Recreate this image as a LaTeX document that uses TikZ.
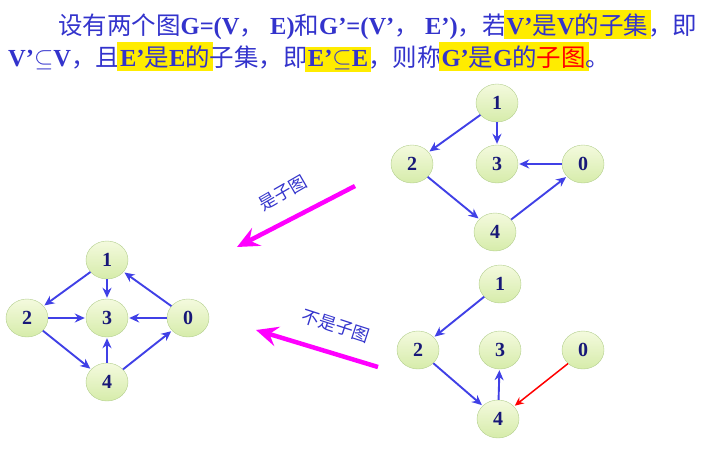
\documentclass[tikz,border=0pt]{standalone}
\usepackage{fontspec}
\setmainfont{Liberation Serif}
\newfontfamily\cjk{Noto Sans CJK SC}
\usetikzlibrary{shapes.geometric,arrows.meta,positioning}
\definecolor{textblue}{RGB}{51,51,204}
\definecolor{edgeblue}{RGB}{64,64,230}
\definecolor{hlyellow}{RGB}{255,236,0}
\definecolor{nodetop}{RGB}{244,250,222}
\definecolor{nodebottom}{RGB}{214,236,170}
\definecolor{nodeline}{RGB}{178,206,140}
\definecolor{labelblue}{RGB}{24,24,120}
\definecolor{arrowpink}{RGB}{255,0,255}
\newcommand\zh{\cjk\mdseries}
\newcommand\lat{\rmfamily\bfseries}
\newcommand\hlt[1]{\setlength{\fboxsep}{3pt}\hspace{-3pt}\colorbox{hlyellow}{#1}\hspace{-3pt}}

\begin{document}
\begin{tikzpicture}[x=1pt, y=-1pt,
  textline/.style={inner sep=0pt, anchor=base west, text=textblue,
    font=\fontsize{24.5}{28}\selectfont\bfseries},
  vertex/.style={ellipse, draw=nodeline, top color=nodetop, bottom color=nodebottom,
    minimum width=42pt, minimum height=38pt, inner sep=0pt, text=labelblue,
    font=\fontsize{20}{22}\selectfont\bfseries},
  edge/.style={draw=edgeblue, line width=1.9pt, -{Stealth[length=10pt,width=9pt]}, shorten >=1pt},
  badedge/.style={draw=red, line width=1.5pt, -{Stealth[length=9pt,width=8pt]}, shorten >=1pt},
  bigarrow/.style={draw=arrowpink, line width=4.5pt, -{Stealth[length=22pt,width=20pt,inset=8pt]}},
  note/.style={text=textblue, font=\cjk\fontsize{17.5}{19}\selectfont}]
  \useasboundingbox (0,0) rectangle (703,450);

  \node[textline] (line1) at (58,34) {\zh 设有两个图\lat G=(V\zh ，\lat\ E)\zh 和\lat G'=(V'\zh ，\lat\ E')\zh ，若\hlt{\lat V'\zh 是\lat V\zh 的子集}，即};
  \node[textline] (line2) at (8,66) {V'$\subseteq$V\zh ，且\hlt{\lat E'\zh 是\lat E\zh 的}子集，即\hlt{\lat E'$\subseteq$E}\zh ，则称\hlt{\lat G'\zh 是\lat G\zh 的\textcolor{red}{子图}}。};

  % graph G
  \node[vertex] (g1) at (107,260) {1};
  \node[vertex] (g2) at (27,318) {2};
  \node[vertex] (g3) at (107,318) {3};
  \node[vertex] (g0) at (188,318) {0};
  \node[vertex] (g4) at (107,382) {4};
  \draw[edge] (g1) -- (g2);
  \draw[edge] (g1) -- (g3);
  \draw[edge] (g0) -- (g1);
  \draw[edge] (g2) -- (g3);
  \draw[edge] (g0) -- (g3);
  \draw[edge] (g2) -- (g4);
  \draw[edge] (g4) -- (g3);
  \draw[edge] (g4) -- (g0);

  % subgraph
  \node[vertex] (s1) at (497,103) {1};
  \node[vertex] (s2) at (412,164) {2};
  \node[vertex] (s3) at (497,164) {3};
  \node[vertex] (s0) at (583,164) {0};
  \node[vertex] (s4) at (495,232) {4};
  \draw[edge] (s1) -- (s2);
  \draw[edge] (s1) -- (s3);
  \draw[edge] (s0) -- (s3);
  \draw[edge] (s2) -- (s4);
  \draw[edge] (s4) -- (s0);

  % not a subgraph
  \node[vertex] (n1) at (500,284) {1};
  \node[vertex] (n2) at (418,350) {2};
  \node[vertex] (n3) at (500,350) {3};
  \node[vertex] (n0) at (583,350) {0};
  \node[vertex] (n4) at (498,419) {4};
  \draw[edge] (n1) -- (n2);
  \draw[edge] (n2) -- (n4);
  \draw[edge] (n4) -- (n3);
  \draw[badedge] (n0.south west) -- (n4);

  \coordinate (yesfrom) at (355,186);
  \coordinate (yesto) at (237,247);
  \coordinate (nofrom) at (378,367);
  \coordinate (noto) at (256,330);
  \draw[bigarrow] (yesfrom) -- (yesto);
  \draw[bigarrow] (nofrom) -- (noto);
  \node[note, rotate=30] (yes) at (283,193) {是子图};
  \node[note, rotate=-18] (no) at (336,326) {不是子图};
\end{tikzpicture}
\end{document}
